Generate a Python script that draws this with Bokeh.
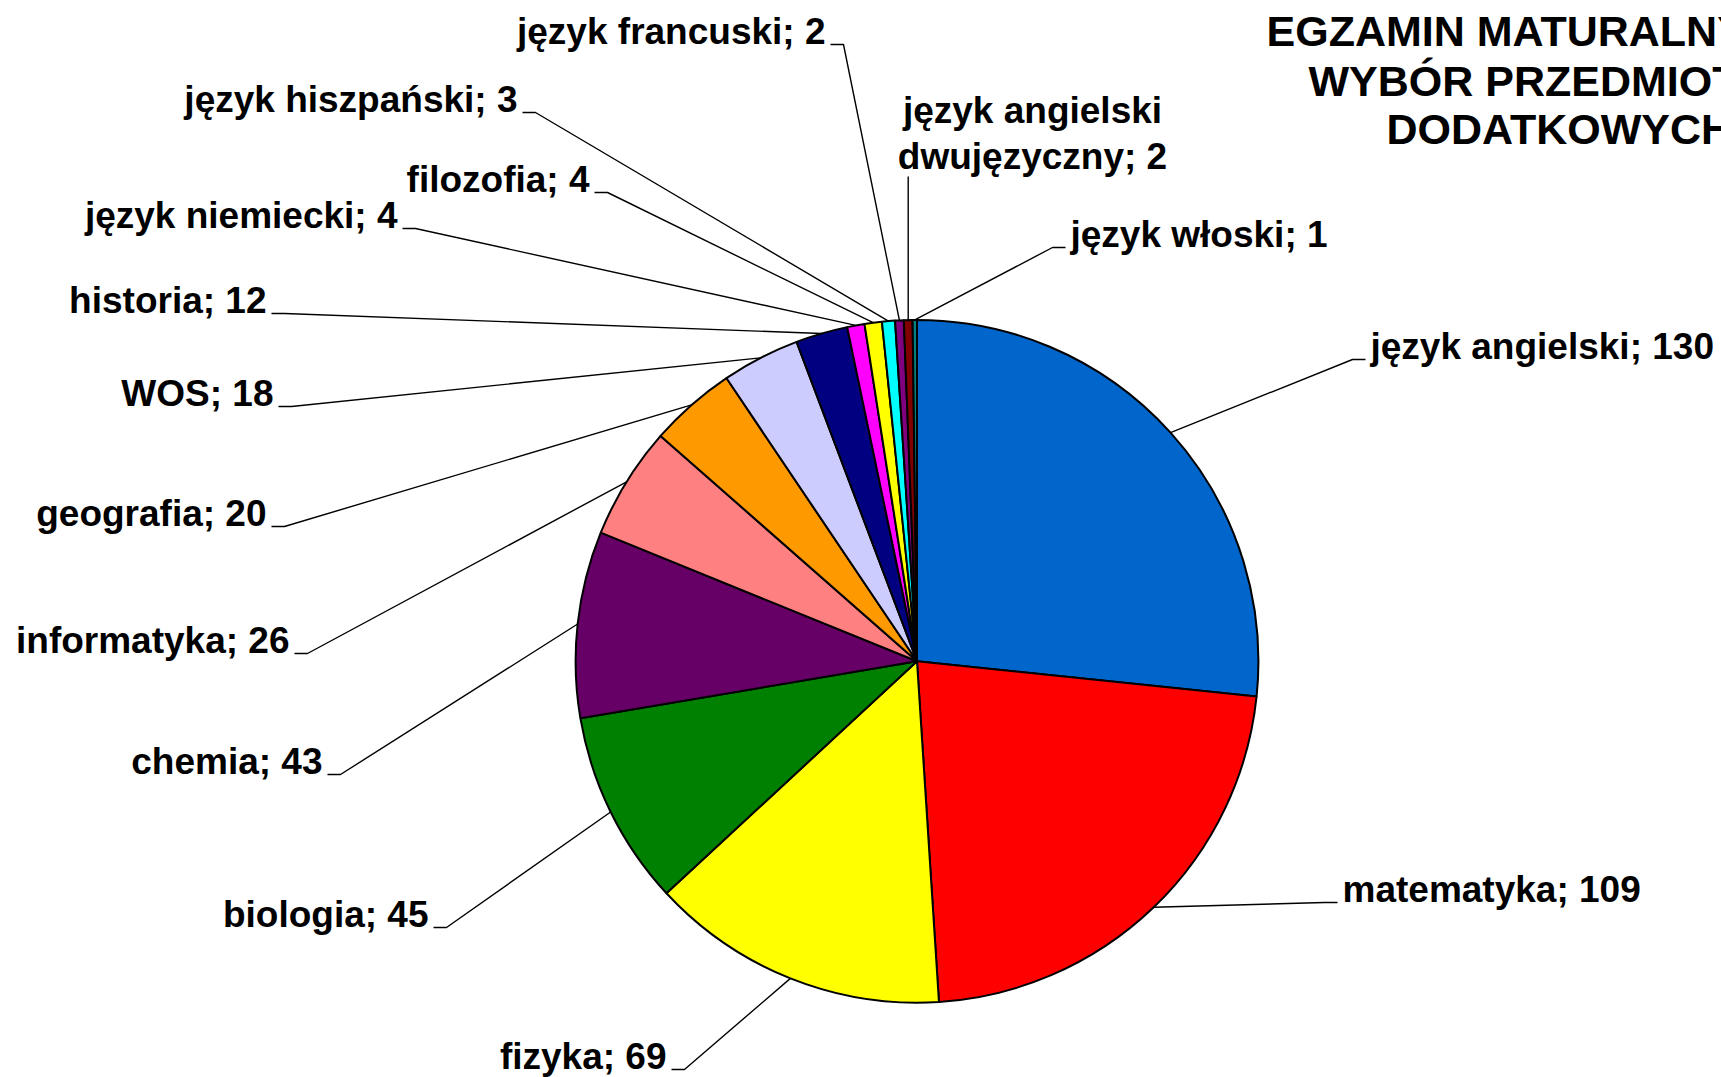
import numpy as np
from bokeh.plotting import figure
from bokeh.models import Range1d, ColumnDataSource
from bokeh.core.properties import value
from bokeh.embed import file_html
from bokeh.resources import INLINE

# ---------------- data ----------------
categories = ["język angielski", "matematyka", "fizyka", "biologia", "chemia",
              "informatyka", "geografia", "WOS", "historia", "język niemiecki",
              "filozofia", "język hiszpański", "język francuski",
              "język angielski dwujęzyczny", "język włoski"]
counts = [130, 109, 69, 45, 43, 26, 20, 18, 12, 4, 4, 3, 2, 2, 1]
colors = ["#0066CC", "#FF0000", "#FFFF00", "#008000", "#660066", "#FF8080",
          "#FF9900", "#CCCCFF", "#000080", "#FF00FF", "#FFFF00", "#00FFFF",
          "#800080", "#800000", "#008080"]
title_lines = ["EGZAMIN MATURALNY", "WYBÓR PRZEDMIOTÓW", "DODATKOWYCH"]

# ---------------- layout (picture pixels, y downwards) ----------------
label_x = [1370, 1342, 666, 428, 322, 289, 266, 273, 266, 397, 589, 517, 825, 1032, 1070]
label_y = [346, 889, 1056, 914, 761, 640, 513, 393, 300, 215, 179, 99, 31, 133, 234]
label_side = ["right", "right", "left", "left", "left", "left", "left", "left",
              "left", "left", "left", "left", "left", "center", "right"]
title_x = [1266, 1308, 1386]
title_y = [30, 80, 128]
PIE_CX, PIE_CY, PIE_R = 916.5, 660.8, 341.4
PAGE_H = 1077
W, H = 1721, 1077
FONT = "Liberation Sans"


def Y(y):
    return PAGE_H - y


p = figure(width=W, height=H, x_range=Range1d(0, W),
           y_range=Range1d(PAGE_H - H, PAGE_H),
           output_backend="svg", toolbar_location=None,
           x_axis_type=None, y_axis_type=None, min_border=0)
p.outline_line_color = None
p.background_fill_color = "white"
p.border_fill_color = "white"

total = float(sum(counts))
cum = np.cumsum([0] + counts)
start = np.pi / 2 - 2 * np.pi * cum[:-1] / total
end = np.pi / 2 - 2 * np.pi * cum[1:] / total
mid = (start + end) / 2
cx, cy = PIE_CX, Y(PIE_CY)

src = ColumnDataSource(dict(start=start, end=end, color=colors, cat=categories, val=counts))
p.wedge(x=cx, y=cy, radius=PIE_R, start_angle="start", end_angle="end",
        direction="clock", fill_color="color", line_color="black",
        line_width=2, source=src)

# leader lines and labels
xs, ys = [], []
tx, ty, tt, ta = [], [], [], []
for i, (c, v) in enumerate(zip(categories, counts)):
    ex = cx + PIE_R * np.cos(mid[i])
    ey = cy + PIE_R * np.sin(mid[i])
    lx, ly = label_x[i], Y(label_y[i])
    side = label_side[i]
    text = f"{c}; {v}"
    if side == "left":
        xs.append([lx + 5, lx + 18, ex])
        ys.append([ly - 13, ly - 13, ey])
        ta.append("right")
    elif side == "right":
        xs.append([lx - 5, lx - 18, ex])
        ys.append([ly - 13, ly - 13, ey])
        ta.append("left")
    else:
        words = text.split(" ")
        lines, cur = [], ""
        for w in words:
            if cur and len(cur) + 1 + len(w) > 16:
                lines.append(cur)
                cur = w
            else:
                cur = (cur + " " + w).strip()
        lines.append(cur)
        text = "\n".join(lines)
        xs.append([ex, ex])
        ys.append([ly - 43, ey])
        ta.append("center")
    tx.append(lx)
    ty.append(ly)
    tt.append(text)

p.multi_line(xs=xs, ys=ys, line_color="black", line_width=1.4)

lab = ColumnDataSource(dict(x=tx, y=ty, text=tt, align=ta))
p.text(x="x", y="y", text="text", text_align="align", text_baseline="middle",
       text_font=value(FONT), text_font_style="bold", text_font_size="37px",
       text_line_height=1.13, text_color="black", source=lab)

p.text(x=title_x, y=[Y(v) for v in title_y], text=title_lines,
       text_align="left", text_baseline="middle", text_font=value(FONT),
       text_font_style="bold", text_font_size="43px", text_color="black")

open("out.html", "w").write(file_html(p, INLINE))
